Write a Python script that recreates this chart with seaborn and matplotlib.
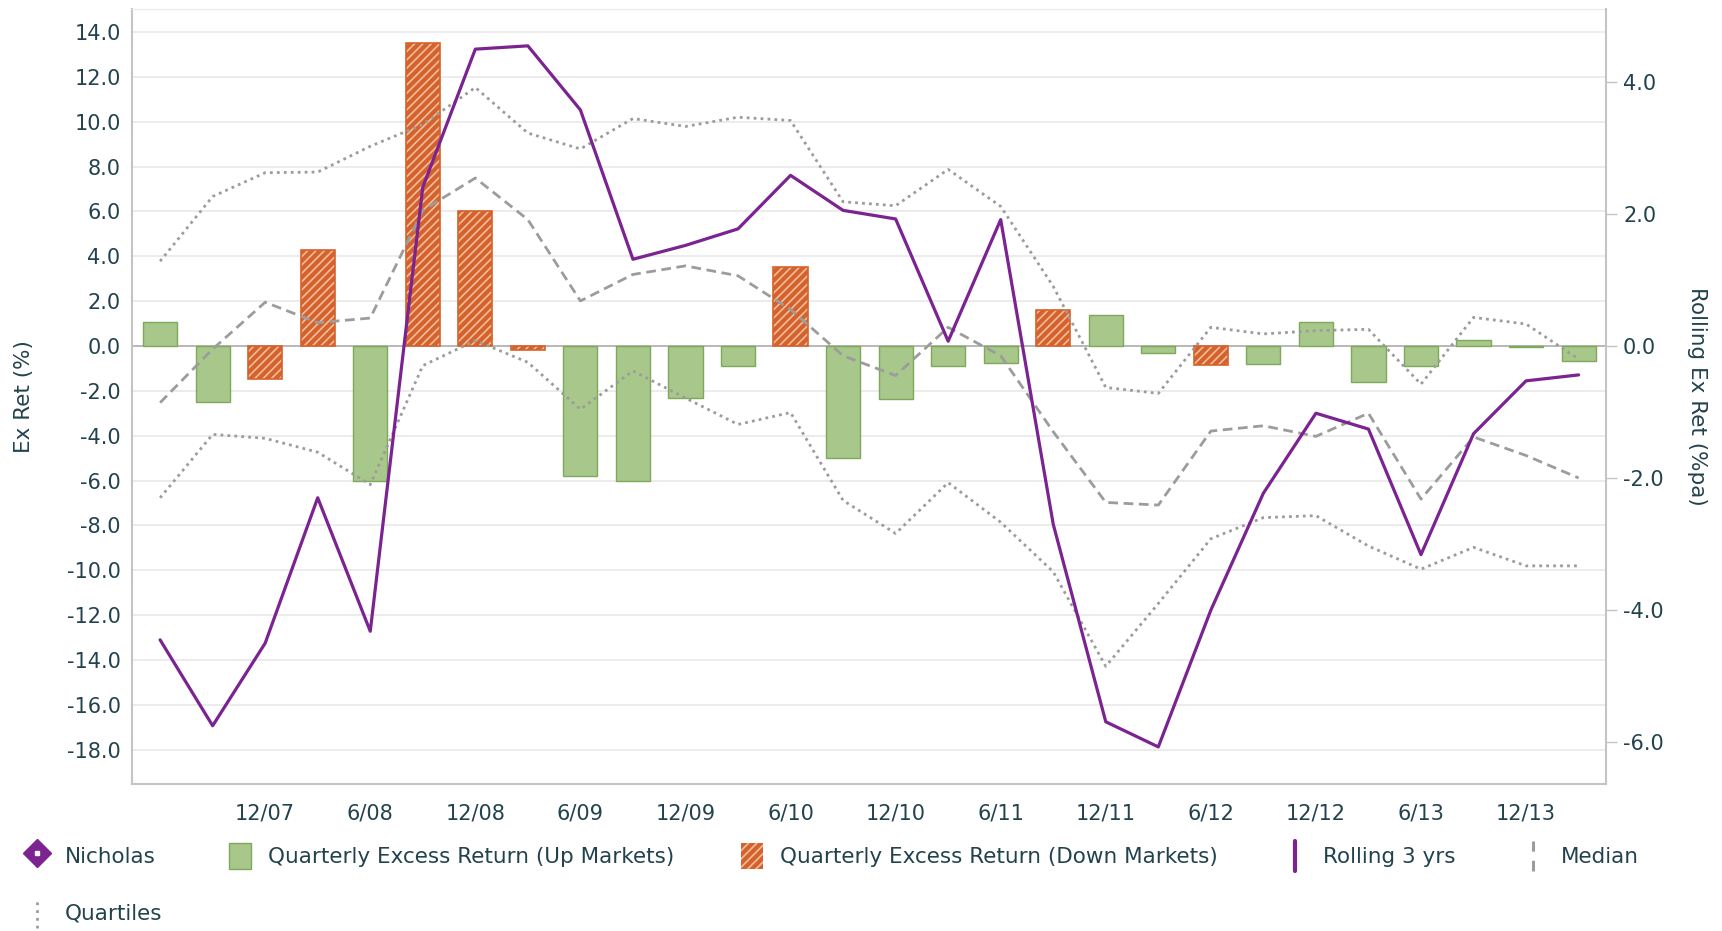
import numpy as np
import pandas as pd
import matplotlib
matplotlib.use("Agg")
import matplotlib.pyplot as plt
import seaborn as sns
from matplotlib.lines import Line2D
from matplotlib.patches import Patch, Rectangle
from matplotlib.legend_handler import HandlerBase

# quarterly data, 6/07 .. 3/14
quarters = ["6/07", "9/07", "12/07", "3/08", "6/08", "9/08", "12/08", "3/09",
            "6/09", "9/09", "12/09", "3/10", "6/10", "9/10", "12/10", "3/11",
            "6/11", "9/11", "12/11", "3/12", "6/12", "9/12", "12/12", "3/13",
            "6/13", "9/13", "12/13", "3/14"]
excess = [1.05, -2.5, -1.45, 4.3, -6.0, 13.5, 6.0, -0.2, -5.8, -6.0, -2.3, -0.9,
          3.5, -5.0, -2.35, -0.9, -0.75, 1.6, 1.4, -0.3, -0.85, -0.8, 1.05, -1.6,
          -0.9, 0.25, -0.05, -0.65]
market = ["Up", "Up", "Down", "Down", "Up", "Down", "Down", "Down", "Up", "Up",
          "Up", "Up", "Down", "Up", "Up", "Up", "Up", "Down", "Up", "Up", "Down",
          "Up", "Up", "Up", "Up", "Up", "Up", "Up"]
rolling = [-4.45, -5.75, -4.50, -2.30, -4.32, 2.4, 4.49, 4.54, 3.57, 1.31, 1.52,
           1.77, 2.58, 2.05, 1.92, 0.07, 1.91, -2.7, -5.69, -6.07, -4.0, -2.23,
           -1.02, -1.26, -3.16, -1.33, -0.53, -0.44]
median = [-0.86, -0.05, 0.66, 0.35, 0.42, 2.05, 2.54, 1.91, 0.68, 1.08, 1.21, 1.06,
          0.55, -0.15, -0.45, 0.28, -0.15, -1.3, -2.37, -2.41, -1.29, -1.21, -1.37,
          -1.02, -2.32, -1.38, -1.66, -2.0]
upper_q = [1.28, 2.26, 2.62, 2.63, 3.02, 3.35, 3.91, 3.22, 2.98, 3.44, 3.32, 3.46,
           3.41, 2.18, 2.12, 2.67, 2.11, 0.9, -0.63, -0.72, 0.28, 0.18, 0.23, 0.25,
           -0.58, 0.43, 0.33, -0.2]
lower_q = [-2.3, -1.34, -1.40, -1.61, -2.10, -0.3, 0.08, -0.25, -0.96, -0.38, -0.79,
           -1.19, -1.01, -2.34, -2.84, -2.07, -2.67, -3.42, -4.85, -3.9, -2.92, -2.60,
           -2.57, -3.03, -3.38, -3.05, -3.33, -3.33]

tick_idx = list(range(2, 28, 2))
left_ticks = np.arange(-18, 15, 2)
right_ticks = np.arange(-6, 5, 2)

GREEN = "#a8c78a"
GREEN_EDGE = "#7ea85a"
ORANGE = "#d5622c"
HATCH = "#f2bd9c"
PURPLE = "#7b2391"
GREY = "#9c9c9c"
TXT = "#22434e"
AXC = "#c4c4c4"

sns.set_style("white")
plt.rcParams["font.family"] = ["DejaVu Sans"]
plt.rcParams["axes.unicode_minus"] = False
plt.rcParams["hatch.linewidth"] = 1.2

fig, ax = plt.subplots(figsize=(17.22, 9.31), dpi=100)
fig.subplots_adjust(left=0.0765, right=0.9329, top=0.9905, bottom=0.158)

df = pd.DataFrame({"quarter": quarters, "excess": excess, "market": market})
sns.barplot(data=df, x="quarter", y="excess", hue="market", hue_order=["Up", "Down"],
            palette={"Up": GREEN, "Down": ORANGE}, dodge=False, width=0.65,
            saturation=1, errorbar=None, legend=False, ax=ax, zorder=2)

for cont, lev in zip(ax.containers, ["Up", "Down"]):
    for p in cont.patches:
        if lev == "Up":
            p.set_edgecolor(GREEN_EDGE)
            p.set_linewidth(1.0)
        else:
            p.set_edgecolor(HATCH)
            p.set_hatch("////")
            p.set_linewidth(0)
            ax.add_patch(Rectangle(p.get_xy(), p.get_width(), p.get_height(),
                                   fill=False, edgecolor=ORANGE, lw=1.2, zorder=3))

ax.axhline(0, color="#b4b4b4", lw=1.3, zorder=1.5)
ax.set_ylim(-19.52, 15.03)
ax.set_yticks(left_ticks)
ax.set_yticklabels([f"{v:.1f}" for v in left_ticks])
ax.yaxis.grid(True, color="#ebebeb", lw=1.3)
ax.set_axisbelow(True)
ax.set_xticks(tick_idx)
ax.set_xticklabels([quarters[i] for i in tick_idx])
ax.set_xlim(-0.54, 27.53)
ax.set_xlabel("")
ax.tick_params(axis="y", length=0, pad=8, labelsize=15, labelcolor=TXT)
ax.tick_params(axis="x", direction="in", length=10, width=1, color=AXC, pad=14,
               labelsize=15, labelcolor=TXT)
for s in ["left", "bottom"]:
    ax.spines[s].set_color(AXC)
    ax.spines[s].set_linewidth(1.5)
ax.spines["top"].set_color("#ebebeb")
ax.spines["right"].set_visible(False)
ax.set_ylabel("Ex Ret (%)", fontsize=15.5, color=TXT, va="center")
ax.yaxis.set_label_coords(-0.073, 0.5)

ax2 = ax.twinx()
pos = np.arange(len(quarters))
sns.lineplot(x=pos, y=upper_q, ax=ax2, color=GREY, lw=2.0, linestyle=":")
sns.lineplot(x=pos, y=lower_q, ax=ax2, color=GREY, lw=2.0, linestyle=":")
sns.lineplot(x=pos, y=median, ax=ax2, color=GREY, lw=2.0, linestyle="--")
sns.lineplot(x=pos, y=rolling, ax=ax2, color=PURPLE, lw=2.3)
ax2.lines[0].set_dashes([1.0, 1.5])
ax2.lines[1].set_dashes([1.0, 1.5])
ax2.lines[2].set_dashes([3.5, 2.0])
ax2.set_ylim(-6.63, 5.10)
ax2.set_yticks(right_ticks)
ax2.set_yticklabels([f"{v:.1f}" for v in right_ticks])
ax2.tick_params(axis="y", direction="out", length=8, width=1, color=AXC, pad=4,
                labelsize=15, labelcolor=TXT)
for s in ["left", "bottom", "top"]:
    ax2.spines[s].set_visible(False)
ax2.spines["right"].set_color(AXC)
ax2.spines["right"].set_linewidth(1.5)
ax2.set_ylabel("Rolling Ex Ret (%pa)", fontsize=15.5, color=TXT, rotation=-90,
               va="center")
ax2.yaxis.set_label_coords(1.0614, 0.5)
ax2.set_xlim(-0.54, 27.53)


class VLine(HandlerBase):
    def __init__(self, dash):
        super().__init__()
        self.dash = dash

    def create_artists(self, legend, orig, xdescent, ydescent, width, height,
                       fontsize, trans):
        x = -xdescent + width / 2
        ln = Line2D([x, x], [-ydescent - 0.1 * height, -ydescent + 1.1 * height],
                    color=orig.get_color(), lw=orig.get_linewidth())
        if self.dash is not None:
            ln.set_dashes(self.dash)
        ln.set_transform(trans)
        return [ln]


h_nich = (Line2D([], [], color=PURPLE, marker="D", markersize=14, ls="none"),
          Line2D([], [], color="white", marker="s", markersize=3.5, ls="none"))
h_quart = Line2D([], [], color=GREY, lw=2.0)
h_up = Patch(facecolor=GREEN, edgecolor=GREEN_EDGE)
h_down = Patch(facecolor=ORANGE, edgecolor=HATCH, hatch="////", lw=0)
h_roll = Line2D([], [], color=PURPLE, lw=3)
h_med = Line2D([], [], color=GREY, lw=2.2)

leg = fig.legend([h_nich, h_quart, h_up, h_down, h_roll, h_med],
                 ["Nicholas", "Quartiles", "Quarterly Excess Return (Up Markets)",
                  "Quarterly Excess Return (Down Markets)", "Rolling 3 yrs", "Median"],
                 handler_map={h_quart: VLine((1.0, 1.8)), h_roll: VLine(None),
                              h_med: VLine((3.5, 3.0))},
                 ncol=5, loc="upper left", bbox_to_anchor=(0.009, 0.106),
                 frameon=False, fontsize=15.5, handlelength=1.0, handleheight=1.45,
                 handletextpad=0.8, columnspacing=3.1, labelspacing=1.45,
                 borderpad=0, labelcolor=TXT)

fig.savefig("out.png", dpi=100)
